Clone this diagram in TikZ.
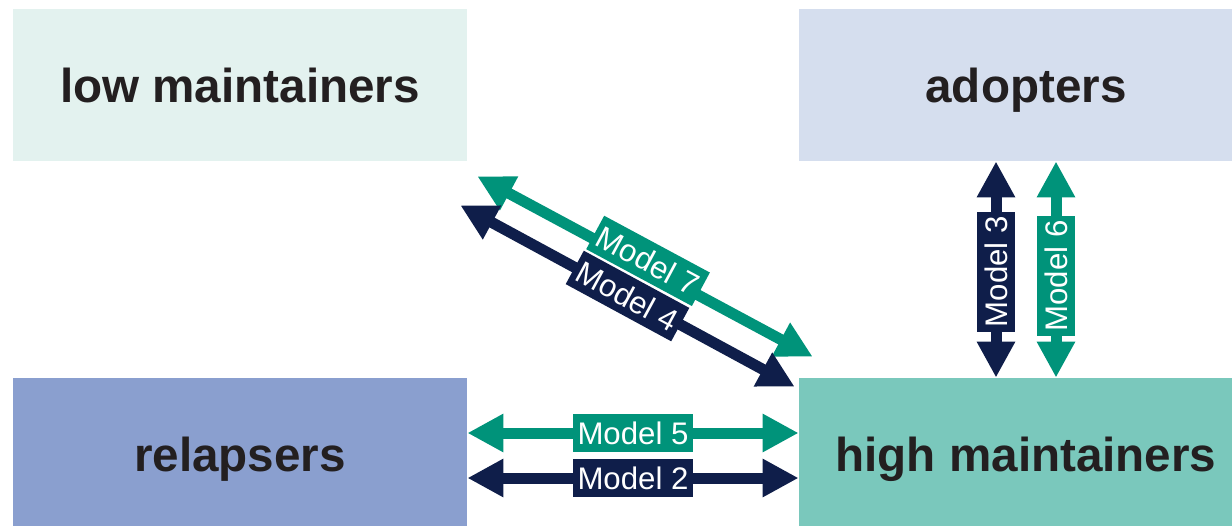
\documentclass[tikz,border=0pt]{standalone}
\usepackage{fontspec}
\setmainfont{Liberation Sans}
\usetikzlibrary{arrows.meta}
\usetikzlibrary{calc}
\usetikzlibrary{positioning}

\definecolor{lowcol}{HTML}{E3F2EF}
\definecolor{adoptcol}{HTML}{D5DEEE}
\definecolor{relapsecol}{HTML}{8A9FCF}
\definecolor{highcol}{HTML}{7AC8BC}
\definecolor{tealcol}{HTML}{00937A}
\definecolor{navycol}{HTML}{0F1E4A}
\definecolor{textcol}{HTML}{231F20}

\begin{document}
\begin{tikzpicture}[x=0.5pt,y=-0.5pt,
    group/.style={rectangle,fill=#1,minimum width=227pt,minimum height=76pt,inner sep=0pt,
      text height=17pt,text depth=0pt,
      text=textcol,font=\fontsize{23.8}{28}\selectfont\bfseries},
    link/.style={draw=#1,line width=5.5pt,
      {Triangle[width=18pt,length=18pt]}-{Triangle[width=18pt,length=18pt]}},
    model/.style={fill=#1,text=white,sloped,font=\fontsize{15.6}{18}\selectfont,
      inner xsep=2.25pt,inner ysep=0pt,text height=11.2pt,text depth=0pt,minimum height=19pt}]

  \useasboundingbox (0,0) rectangle (1232,525);
  \clip (0,0) rectangle (1232,525);

  \node [group=lowcol] (low) at (240,85) {low maintainers};
  \node [group=adoptcol] (adopters) at (1026,85) {adopters};
  \node [group=relapsecol] (relapsers) at (240,454) {relapsers};
  \node [group=highcol] (high) at (1026,454) {high maintainers};

  % relapsers <-> high maintainers
  \path [link=tealcol]
    ([yshift=10.5pt]relapsers.east) -- ([yshift=10.5pt]high.west)
    node [midway,model=tealcol] (m5) {Model 5};
  \path [link=navycol]
    ([yshift=-12pt]relapsers.east) -- ([yshift=-12pt]high.west)
    node [midway,model=navycol] (m2) {Model 2};

  % high maintainers <-> adopters
  \path [link=navycol]
    ([xshift=-15pt]high.north) -- ([xshift=-15pt]adopters.south)
    node [pos=0.49,model=navycol] (m3) {Model 3};
  \path [link=tealcol]
    ([xshift=15pt]high.north) -- ([xshift=15pt]adopters.south)
    node [pos=0.47,model=tealcol] (m6) {Model 6};

  % low maintainers <-> high maintainers
  \path [link=tealcol]
    ($(low.south east)+(10,15)$) -- ($(high.north west)+(14,-21)$)
    node [midway,model=tealcol,yshift=3.2pt] (m7) {Model 7};
  \path [link=navycol]
    ($(low.south east)+(-7,44)$) -- ($(high.north west)+(-4,9)$)
    node [midway,model=navycol] (m4) {Model 4};

\end{tikzpicture}
\end{document}
